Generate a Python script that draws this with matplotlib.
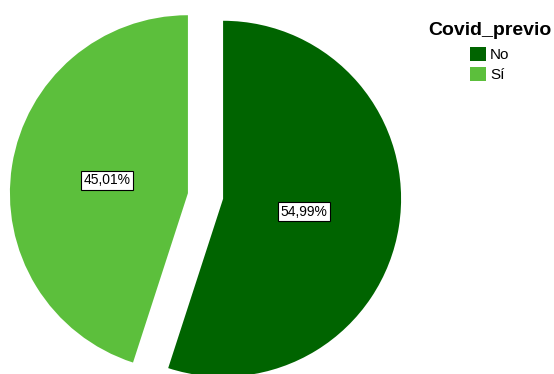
import matplotlib.pyplot as plt

plt.rcParams["font.family"] = ["Liberation Sans", "DejaVu Sans"]

categories = ["No", "Sí"]
percentages = [54.99, 45.01]
colors = ["#006400", "#5cbf3c"]
legend_title = "Covid_previo"


def fmt_pct(p):
    return "{:.2f}%".format(p).replace(".", ",")


fig = plt.figure(figsize=(5.54, 3.74), dpi=100)

# square axes, 400 px wide, pie radius of ~178 px
lim = 200 / 178
ax = fig.add_axes([5.5 / 554, (374 - 396) / 374, 400 / 554, 400 / 374])
wedges, texts, autotexts = ax.pie(
    percentages,
    colors=colors,
    startangle=90,
    counterclock=False,
    explode=[0.1, 0.1],
    autopct=fmt_pct,
    pctdistance=0.46,
    radius=1.0,
    wedgeprops=dict(linewidth=0),
    textprops=dict(fontsize=10, color="black"),
)
for t in autotexts:
    t.set_bbox(dict(boxstyle="square,pad=0.18", facecolor="white",
                    edgecolor="black", linewidth=0.8))
ax.set_xlim(-lim, lim)
ax.set_ylim(-lim, lim)
ax.axis("off")

leg = fig.legend(
    wedges, categories,
    title=legend_title,
    loc="upper center",
    bbox_to_anchor=(489.5 / 554, (374 - 14) / 374),
    frameon=False,
    fontsize=11,
    title_fontproperties=dict(weight="bold", size=14),
    handlelength=1.05,
    handleheight=1.0,
    handletextpad=0.3,
    labelspacing=0.35,
    borderpad=0,
)
leg._legend_box.sep = 6

fig.savefig("out.png", dpi=100)
